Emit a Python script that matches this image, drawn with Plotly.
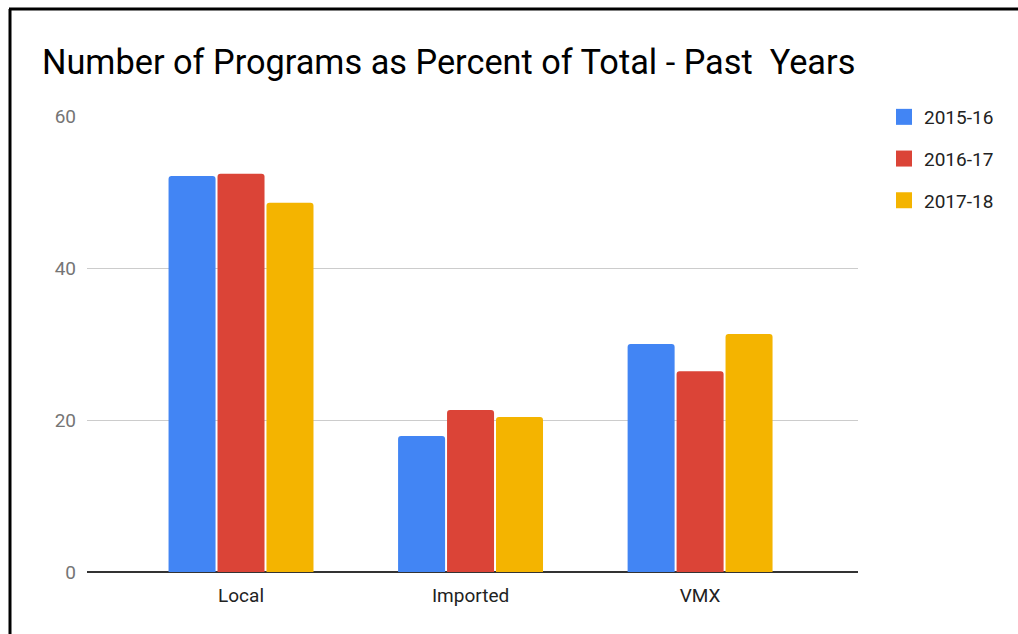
import plotly.graph_objects as go

categories = ["Local", "Imported", "VMX"]
series_names = ["2015-16", "2016-17", "2017-18"]
values_2015_16 = [52.1, 17.9, 30.0]
values_2016_17 = [52.4, 21.3, 26.4]
values_2017_18 = [48.6, 20.4, 31.3]
colors = ["#4285F4", "#DB4437", "#F4B400"]
y_ticks = [0, 20, 40, 60]

W, H = 1018, 634
L, R, T, B = 87, 858, 116, 572

fig = go.Figure()
for i, (name, vals) in enumerate(zip(series_names, [values_2015_16, values_2016_17, values_2017_18])):
    fig.add_trace(go.Bar(
        x=categories, y=vals, name=name, legendgroup=name, showlegend=False,
        marker=dict(color=colors[i], cornerradius=3, line=dict(width=0)),
    ))
# legend entries with larger square swatches
for i, name in enumerate(series_names):
    fig.add_trace(go.Scatter(
        x=[None], y=[None], mode="markers", name=name, legendgroup=name,
        marker=dict(symbol="square", size=16, color=colors[i]),
    ))

fig.update_layout(
    width=W, height=H,
    margin=dict(l=L, r=W - R, t=T, b=H - B, pad=0),
    paper_bgcolor="white", plot_bgcolor="white",
    font=dict(family="Roboto, Arial, sans-serif", size=20, color="#222222"),
    title=dict(text="Number of Programs as Percent of Total - Past  Years",
               x=42 / W, xanchor="left", y=1 - 62 / H, yanchor="middle",
               font=dict(size=34.3, color="#000000")),
    bargap=0.36, bargroupgap=0.04,
    showlegend=True,
    legend=dict(x=(884 - L) / (R - L), xanchor="left", y=1 + 18 / (B - T), yanchor="top",
                traceorder="grouped", tracegroupgap=14, itemsizing="trace",
                font=dict(size=19, color="#222222"), itemwidth=30),
    xaxis=dict(range=[-0.671, 2.688], showgrid=False, ticks="", showline=False,
               ticklabelstandoff=10, tickfont=dict(size=19, color="#222222")),
    yaxis=dict(range=[0, 60], tickvals=y_ticks, showgrid=True, gridcolor="#CCCCCC",
               gridwidth=1, zeroline=True, zerolinecolor="#333333", zerolinewidth=2,
               ticks="", ticklabelstandoff=10, tickfont=dict(size=19, color="#757575")),
    shapes=[
        dict(type="line", xref="paper", yref="paper", x0=(9 - L) / (R - L), x1=(W - L) / (R - L),
             y0=(H - 9 - (H - B)) / (B - T), y1=(H - 9 - (H - B)) / (B - T),
             line=dict(color="black", width=3)),
        dict(type="line", xref="paper", yref="paper", x0=(10 - L) / (R - L), x1=(10 - L) / (R - L),
             y0=(H - 9 - (H - B)) / (B - T), y1=-(H - B) / (B - T),
             line=dict(color="black", width=3)),
    ],
)

fig.write_html("out.html", config={"displayModeBar": False},
               post_script="document.body.style.margin='0';")
